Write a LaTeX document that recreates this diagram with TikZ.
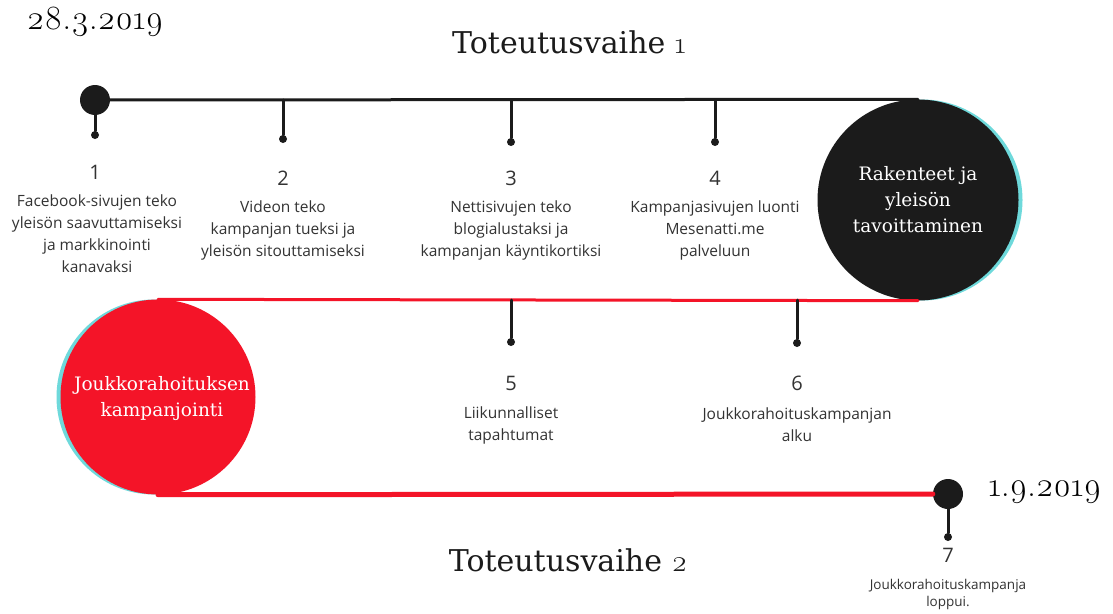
\documentclass[tikz,border=0pt]{standalone}
\usepackage{fontspec}
\newfontfamily\kuvaus{Open Sans}
\newfontfamily\otsikko[Numbers=OldStyle]{Latin Modern Roman}
\newfontfamily\laatta{DejaVu Serif}
\definecolor{turkoosi}{HTML}{6ED9DB}
\definecolor{punainen}{HTML}{F41428}
\definecolor{musta}{HTML}{1B1B1B}
\definecolor{harmaa}{HTML}{333333}

\begin{document}
\begin{tikzpicture}[x=1pt,y=-1pt,line join=round,line cap=round,
	font=\kuvaus\fontsize{15.5}{22}\selectfont,
	piste/.style={circle,fill=musta,inner sep=0pt,minimum size=#1},
	piste/.default=8,
	pallo/.style={circle,inner sep=0pt,minimum size=#1},
	teksti/.style={align=center,text=harmaa},
	nro/.style={font=\kuvaus\fontsize{20}{22}\selectfont,text=harmaa},
	pvm/.style={font=\otsikko\fontsize{34}{34}\selectfont},
	vaihe/.style={font=\laatta\fontsize{30}{30}\selectfont,text=musta},
	sisus/.style={align=center,text=white,font=\laatta\fontsize{18.5}{26}\selectfont}]
	\useasboundingbox[fill=white] (0,0) rectangle (1113,613);

	\node[pallo=201,fill=turkoosi] at (922,200) {};
	\node (rk) [pallo=201,fill=musta] at (918,200) {};
	\node[pallo=195,fill=turkoosi] at (154,397) {};
	\node (jk) [pallo=195,fill=punainen] at (158,397) {};

	\node (alku) [piste=30] at (95,100) {};
	\node (loppu) [piste=30] at (948,494) {};
	\node (p1) [piste] at (95,135) {};
	\node (p2) [piste] at (283,139) {};
	\node (p3) [piste] at (511,142) {};
	\node (p4) [piste] at (715,142) {};
	\node (p5) [piste] at (511,342) {};
	\node (p6) [piste] at (797,343) {};
	\node (p7) [piste] at (948,537) {};
	\coordinate (t2) at (283,100);
	\coordinate (t3) at (511,100);
	\coordinate (t4) at (715,100);
	\coordinate (t5) at (511,300);
	\coordinate (t6) at (797,300);

	\draw[musta,line width=3] (alku) -- (rk.north);
	\draw[punainen,line width=3] (jk.north) -- (rk.south);
	\draw[punainen,line width=5] (jk.south) -- (loppu);
	\draw[musta,line width=3] (alku) -- (p1) (t2) -- (p2) (t3) -- (p3) (t4) -- (p4)
		(t5) -- (p5) (t6) -- (p6) (loppu) -- (p7);

	\node[sisus] at (rk.center) {Rakenteet ja\\yleisön\\tavoittaminen};
	\node[sisus] at (162,399) {Joukkorahoituksen\\kampanjointi};

	\node (d1) [pvm] at (95,22) {28.3.2019};
	\node (d2) [pvm] at (1045,492) {1.9.2019};
	\node (v1) [vaihe] at (569,42) {Toteutusvaihe {\otsikko 1}};
	\node (v2) [vaihe] at (568,560) {Toteutusvaihe {\otsikko 2}};

	\node (n1) [nro] at (95,172) {1};
	\node (n2) [nro] at (283,178) {2};
	\node (n3) [nro] at (511,178) {3};
	\node (n4) [nro] at (715,178) {4};
	\node (n5) [nro] at (511,383) {5};
	\node (n6) [nro] at (797,383) {6};
	\node (n7) [nro] at (948,555) {7};

	\node (k1) [teksti] at (97,234) {Facebook-sivujen teko\\yleisön saavuttamiseksi\\ja markkinointi\\kanavaksi};
	\node (k2) [teksti] at (283,230) {Videon teko\\kampanjan tueksi ja\\yleisön sitouttamiseksi};
	\node (k3) [teksti] at (511,230) {Nettisivujen teko\\blogialustaksi ja\\kampanjan käyntikortiksi};
	\node (k4) [teksti] at (715,230) {Kampanjasivujen luonti\\Mesenatti.me\\palveluun};
	\node (k5) [teksti] at (511,425) {Liikunnalliset\\tapahtumat};
	\node (k6) [teksti] at (797,425) {Joukkorahoituskampanjan\\alku};
	\node (k7) [teksti,font=\kuvaus\fontsize{13.5}{17}\selectfont] at (948,594) {Joukkorahoituskampanja\\loppui.};
\end{tikzpicture}
\end{document}
